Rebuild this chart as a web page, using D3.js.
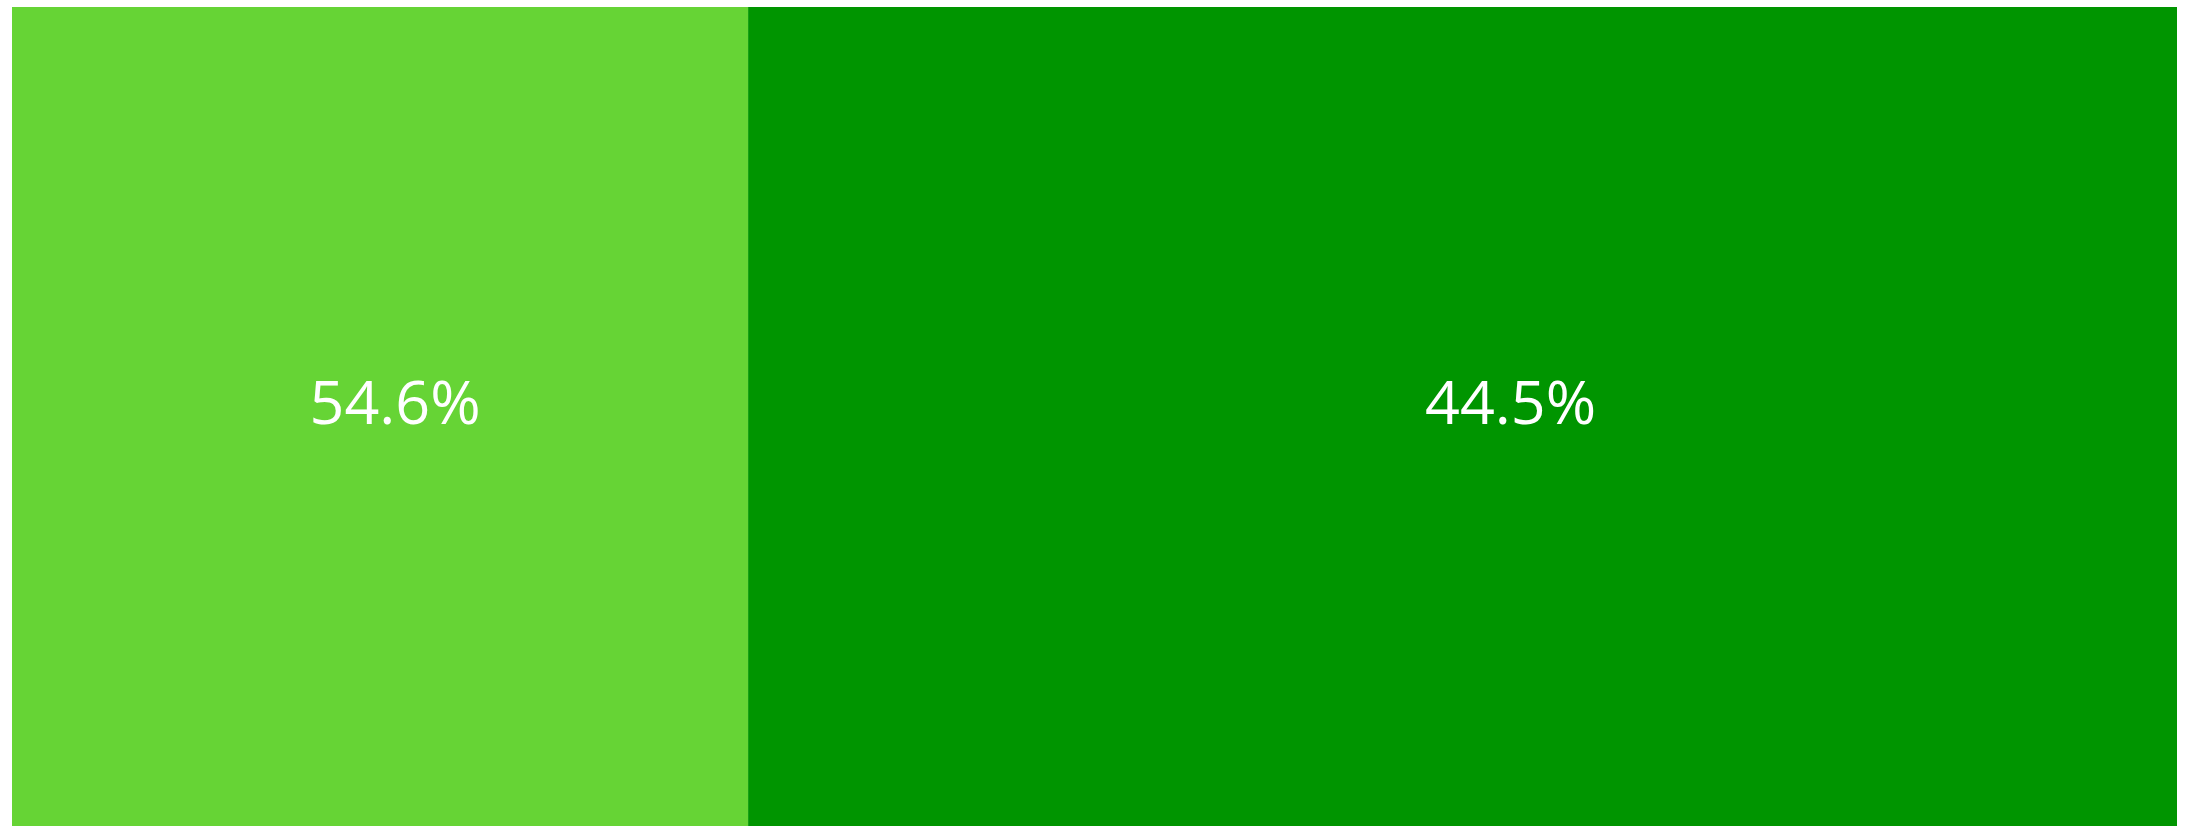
<!DOCTYPE html>
<html>
<head>
<meta charset="utf-8">
<script src="https://cdn.jsdelivr.net/npm/d3@7"></script>
<style>
  html, body { margin: 0; padding: 0; background: #fff; }
  svg { display: block; }
</style>
</head>
<body>
<div id="container"></div>
<script>
const width = 2187;
const height = 836;
const marginTop = 7;
const marginRight = 10;
const marginBottom = 10;
const marginLeft = 12;

// segments of the single stacked bar
const segments = ["A", "B"];
const shares = [34, 66];
const labels = ["54.6%", "44.5%"];
const colors = ["#66d435", "#009500"];

const x = d3.scaleLinear()
  .domain([0, d3.sum(shares)])
  .range([marginLeft, width - marginRight]);

const stackData = [Object.fromEntries(segments.map((k, i) => [k, shares[i]]))];
const series = d3.stack().keys(segments)(stackData);

const svg = d3.create("svg")
  .attr("width", width)
  .attr("height", height)
  .attr("viewBox", [0, 0, width, height]);

const g = svg.append("g")
  .selectAll("g")
  .data(series)
  .join("g");

g.append("rect")
  .attr("x", d => x(d[0][0]))
  .attr("y", marginTop)
  .attr("width", d => x(d[0][1]) - x(d[0][0]))
  .attr("height", height - marginTop - marginBottom)
  .attr("fill", (d, i) => colors[i]);

// labels sit a bit right of the segment middle, more so on the wide one
g.append("text")
  .attr("x", d => (x(d[0][0]) + x(d[0][1])) / 2)
  .attr("dx", (d, i) => i === 0 ? 15 : 48)
  .attr("y", marginTop + (height - marginTop - marginBottom) / 2 - 14)
  .attr("dy", "0.35em")
  .attr("text-anchor", "middle")
  .attr("fill", "#fff")
  .attr("font-family", "Open Sans")
  .attr("font-size", 61)
  .text((d, i) => labels[i]);

document.getElementById("container").appendChild(svg.node());
</script>
</body>
</html>
